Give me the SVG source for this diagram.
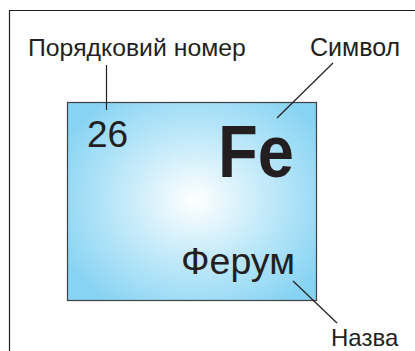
<svg xmlns="http://www.w3.org/2000/svg" width="415" height="351" viewBox="0 0 415 351">
<style>
text{font-family:"Liberation Sans",Arial,sans-serif;fill:#231f20}
.ln{stroke:#231f20;stroke-width:1.2;fill:none}
</style>
<defs>
<radialGradient id="g" cx="195" cy="200" r="150" gradientUnits="userSpaceOnUse" gradientTransform="translate(195 200) scale(1 0.85) translate(-195 -200)">
<stop offset="0" stop-color="#ffffff"/>
<stop offset="0.45" stop-color="#c6ebfa"/>
<stop offset="1" stop-color="#86d3f3"/>
</radialGradient>
</defs>
<rect width="415" height="351" fill="#fff"/>
<path class="ln" d="M9.5 351V10.5H415"/>
<g id="element">
<rect x="67.5" y="102.5" width="249" height="198" fill="url(#g)" stroke="#404040" stroke-width="1.2"/>
<text x="87" y="147" font-size="37">26</text>
<text x="218" y="177" font-size="75" font-weight="bold" textLength="76" lengthAdjust="spacingAndGlyphs">Fe</text>
<text x="181" y="274" font-size="36" textLength="114" lengthAdjust="spacingAndGlyphs">Ферум</text>
</g>
<g id="label-number"><text x="28" y="56" font-size="24.8">Порядковий номер</text></g>
<g id="label-symbol"><text x="310" y="56" font-size="25">Символ</text></g>
<g id="label-name"><text x="331" y="346" font-size="24">Назва</text></g>
<g id="connectors">
<line class="ln" x1="106.5" y1="65" x2="106.5" y2="110"/>
<line class="ln" x1="333" y1="63" x2="277" y2="118"/>
<line class="ln" x1="293" y1="281" x2="337" y2="323"/>
</g>
</svg>
